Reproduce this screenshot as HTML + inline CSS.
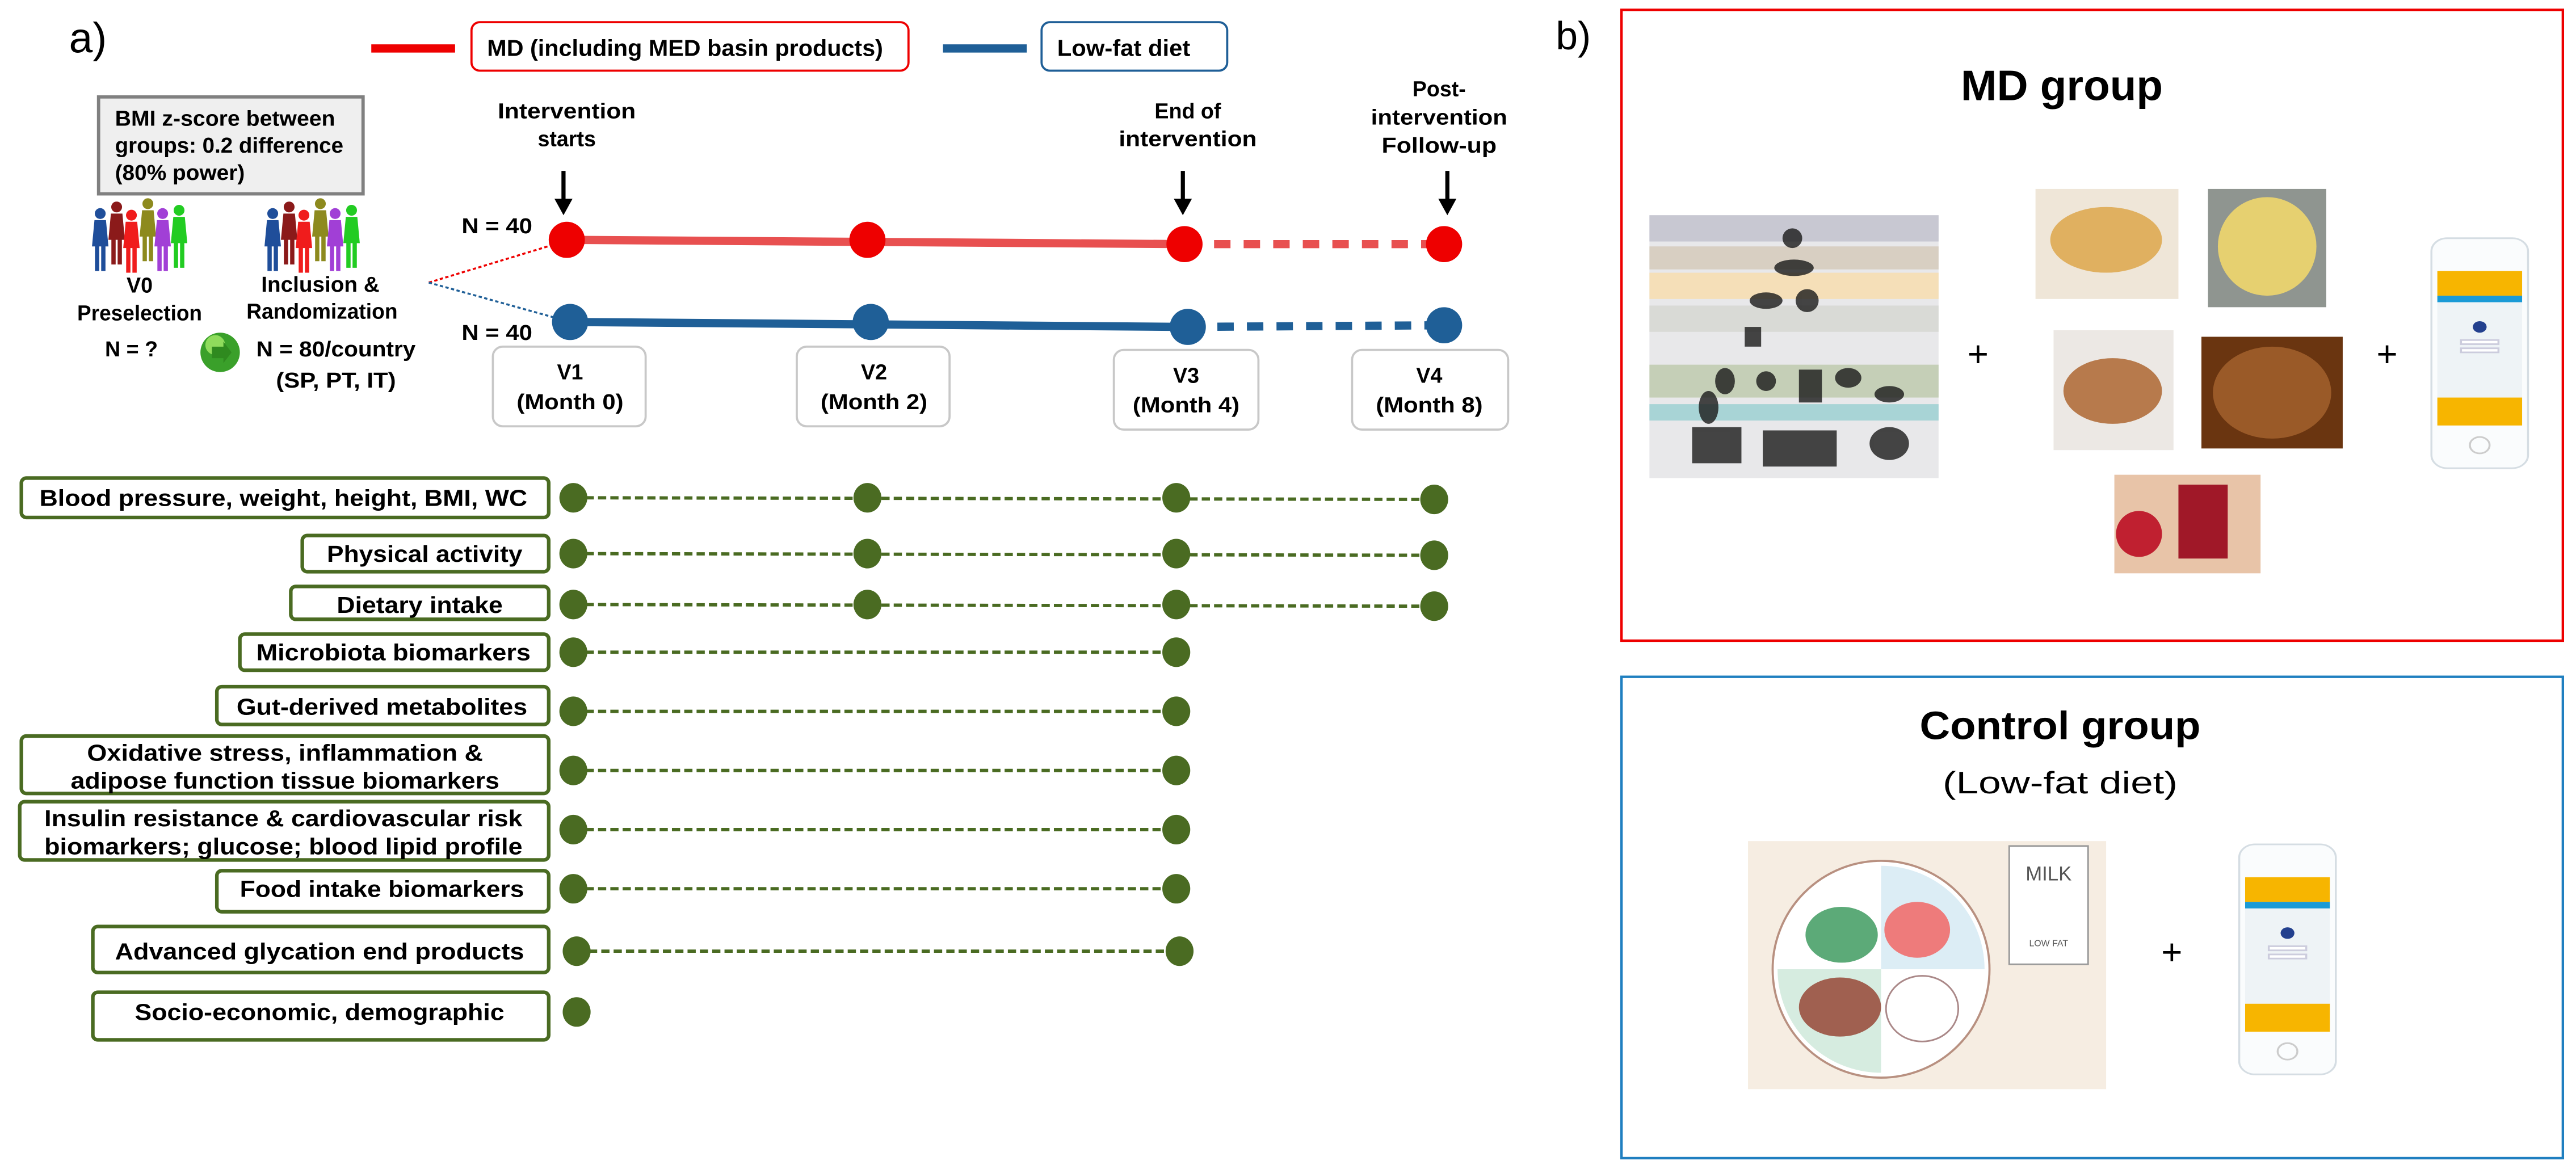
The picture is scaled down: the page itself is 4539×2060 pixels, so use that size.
<!DOCTYPE html>
<html><head><meta charset="utf-8"><style>
html,body{margin:0;padding:0;background:#fff;}
svg{display:block}
.n{font-family:"Liberation Sans",sans-serif;font-weight:bold;fill:#000}
.c{text-anchor:middle}
</style></head><body>
<svg width="4539" height="2060" viewBox="0 0 1568 711.6" preserveAspectRatio="none" xmlns="http://www.w3.org/2000/svg">
<defs>
<g id="p"><circle cx="0" cy="-20" r="3.3"/><path d="M-3.5,-16 L3.5,-16 L5,0 L-5,0 Z"/><rect x="-3.2" y="-1" width="2.6" height="16"/><rect x="0.6" y="-1" width="2.6" height="16"/></g>
<g id="crowd">
<use href="#p" x="3" y="23" fill="#1f4e9a"/><use href="#p" x="13" y="19" fill="#8b1a1a"/><use href="#p" x="22" y="24" fill="#f01c1c"/><use href="#p" x="32" y="17" fill="#8d8a1e"/><use href="#p" x="41" y="23" fill="#a13fd6"/><use href="#p" x="51" y="21" fill="#22cc22"/>
</g>
<g id="phone">
<rect x="0" y="0" width="49" height="140" rx="8" fill="#fafcfd" stroke="#d5dde3" stroke-width="1"/>
<rect x="3" y="20" width="43" height="15" fill="#f7b500"/>
<rect x="3" y="35" width="43" height="4" fill="#1a9ad6"/>
<rect x="3" y="39" width="43" height="58" fill="#eef3f6"/>
<circle cx="24.5" cy="54" r="3.5" fill="#23408e"/>
<rect x="15" y="62" width="19" height="2.5" fill="#fff" stroke="#ccd"/>
<rect x="15" y="67" width="19" height="2.5" fill="#fff" stroke="#ccd"/>
<rect x="3" y="97" width="43" height="17" fill="#f7b500"/>
<circle cx="24.5" cy="126" r="5" fill="none" stroke="#ccc"/>
</g>
</defs>

<text x="42" y="32" font-family="Liberation Sans,sans-serif" font-size="26" textLength="23" lengthAdjust="spacingAndGlyphs">a)</text>
<rect x="226" y="27" width="51" height="5" fill="#e00"/>
<rect x="287" y="13.5" width="266" height="29.5" rx="5" fill="#fff" stroke="#e00" stroke-width="1.3"/>
<text x="417" y="34" class="n c" font-size="14" textLength="241" lengthAdjust="spacingAndGlyphs">MD (including MED basin products)</text>
<rect x="574" y="27" width="51" height="5" fill="#1f5f97"/>
<rect x="634" y="13.5" width="113" height="29.5" rx="5" fill="#fff" stroke="#1f5f97" stroke-width="1.3"/>
<text x="684" y="34" class="n c" font-size="14" textLength="81" lengthAdjust="spacingAndGlyphs">Low-fat diet</text>
<text x="947" y="30" font-family="Liberation Sans,sans-serif" font-size="24">b)</text>

<use href="#crowd" x="58" y="127"/>
<use href="#crowd" x="163" y="127"/>
<rect x="60" y="59" width="161" height="59" fill="#efefef" stroke="#808080" stroke-width="2"/>
<text x="70" y="76.5" class="n" font-size="13" textLength="134" lengthAdjust="spacingAndGlyphs">BMI z-score between</text>
<text x="70" y="93" class="n" font-size="13" textLength="139" lengthAdjust="spacingAndGlyphs">groups: 0.2 difference</text>
<text x="70" y="109.5" class="n" font-size="13" textLength="79" lengthAdjust="spacingAndGlyphs">(80% power)</text>

<text x="85" y="178" class="n c" font-size="13">V0</text>
<text x="85" y="195" class="n c" font-size="13" textLength="76" lengthAdjust="spacingAndGlyphs">Preselection</text>
<text x="80" y="217" class="n c" font-size="13">N = ?</text>
<text x="195" y="177.5" class="n c" font-size="13" textLength="72" lengthAdjust="spacingAndGlyphs">Inclusion &amp;</text>
<text x="196" y="194" class="n c" font-size="13" textLength="92" lengthAdjust="spacingAndGlyphs">Randomization</text>
<circle cx="134" cy="214.5" r="12" fill="#3aa02a"/><circle cx="131" cy="210" r="6" fill="#8fdc5c"/>
<path d="M129,211 L136,211 L136,208 L141,214.5 L136,221 L136,218 L129,218Z" fill="#2f8a1f"/>
<text x="204.5" y="217" class="n c" font-size="13" textLength="97" lengthAdjust="spacingAndGlyphs">N = 80/country</text>
<text x="204.5" y="236" class="n c" font-size="13" textLength="73" lengthAdjust="spacingAndGlyphs">(SP, PT, IT)</text>

<line x1="261" y1="172" x2="340" y2="148" stroke="#e00" stroke-width="1.2" stroke-dasharray="2,1.5"/>
<line x1="261" y1="172" x2="340" y2="194" stroke="#1f5f97" stroke-width="1.2" stroke-dasharray="2,1.5"/>
<text x="302.5" y="142" class="n c" font-size="13" textLength="43" lengthAdjust="spacingAndGlyphs">N = 40</text>
<text x="302.5" y="207" class="n c" font-size="13" textLength="43" lengthAdjust="spacingAndGlyphs">N = 40</text>

<text x="345" y="72" class="n c" font-size="13" textLength="84" lengthAdjust="spacingAndGlyphs">Intervention</text>
<text x="345" y="89" class="n c" font-size="13">starts</text>
<text x="723" y="72" class="n c" font-size="13">End of</text>
<text x="723" y="89" class="n c" font-size="13" textLength="84" lengthAdjust="spacingAndGlyphs">intervention</text>
<text x="876" y="58.6" class="n c" font-size="13">Post-</text>
<text x="876" y="75.8" class="n c" font-size="13" textLength="83" lengthAdjust="spacingAndGlyphs">intervention</text>
<text x="876" y="93" class="n c" font-size="13" textLength="70" lengthAdjust="spacingAndGlyphs">Follow-up</text>
<g stroke="#000" stroke-width="2.5">
<line x1="343" y1="104" x2="343" y2="123"/><line x1="720" y1="104" x2="720" y2="123"/><line x1="881" y1="104" x2="881" y2="123"/>
</g>
<g fill="#000">
<polygon points="337.5,121 348.5,121 343,131"/><polygon points="714.5,121 725.5,121 720,131"/><polygon points="875.5,121 886.5,121 881,131"/>
</g>

<line x1="345" y1="146" x2="721" y2="148.6" stroke="#e85050" stroke-width="5"/>
<line x1="721" y1="148.6" x2="879" y2="148.6" stroke="#e85050" stroke-width="5" stroke-dasharray="10,8"/>
<line x1="347" y1="196" x2="723" y2="199" stroke="#1f5f97" stroke-width="5"/>
<line x1="723" y1="199" x2="879" y2="198" stroke="#1f5f97" stroke-width="5" stroke-dasharray="10,8"/>
<g fill="#e00"><ellipse cx="345" cy="146" rx="11" ry="11"/><ellipse cx="528" cy="146" rx="11" ry="11"/><ellipse cx="721" cy="148.6" rx="11" ry="11"/><ellipse cx="879" cy="148.6" rx="11" ry="11"/></g>
<g fill="#1f5f97"><ellipse cx="347" cy="196" rx="11" ry="11"/><ellipse cx="530" cy="196" rx="11" ry="11"/><ellipse cx="723" cy="199" rx="11" ry="11"/><ellipse cx="879" cy="198" rx="11" ry="11"/></g>

<g fill="#fff" stroke="#c8c8c8" stroke-width="1.3">
<rect x="300" y="211" width="93" height="48.5" rx="6"/><rect x="485" y="211" width="93" height="48.5" rx="6"/><rect x="678" y="213" width="88" height="48.5" rx="6"/><rect x="823" y="213" width="95" height="48.5" rx="6"/>
</g>
<text x="347" y="231" class="n c" font-size="13">V1</text><text x="347" y="249" class="n c" font-size="13" textLength="65" lengthAdjust="spacingAndGlyphs">(Month 0)</text>
<text x="532" y="231" class="n c" font-size="13">V2</text><text x="532" y="249" class="n c" font-size="13" textLength="65" lengthAdjust="spacingAndGlyphs">(Month 2)</text>
<text x="722" y="233" class="n c" font-size="13">V3</text><text x="722" y="251" class="n c" font-size="13" textLength="65" lengthAdjust="spacingAndGlyphs">(Month 4)</text>
<text x="870" y="233" class="n c" font-size="13">V4</text><text x="870" y="251" class="n c" font-size="13" textLength="65" lengthAdjust="spacingAndGlyphs">(Month 8)</text>

<g fill="#fff" stroke="#4a6b22" stroke-width="2.2">
<rect x="13" y="291" width="321" height="24" rx="3"/>
<rect x="184" y="326" width="150" height="22" rx="3"/>
<rect x="177" y="357" width="157" height="20" rx="3"/>
<rect x="146" y="386" width="188" height="22" rx="3"/>
<rect x="132" y="418" width="202" height="23" rx="3"/>
<rect x="13" y="448" width="321" height="35" rx="3"/>
<rect x="12" y="488" width="322" height="35.5" rx="3"/>
<rect x="132" y="530" width="202" height="25" rx="3"/>
<rect x="56.5" y="564" width="277.5" height="28" rx="3"/>
<rect x="56.5" y="604" width="277.5" height="29" rx="3"/>
</g>
<g class="n c" font-size="14">
<text x="172.5" y="308" textLength="297" lengthAdjust="spacingAndGlyphs">Blood pressure, weight, height, BMI, WC</text>
<text x="258.5" y="342" textLength="119" lengthAdjust="spacingAndGlyphs">Physical activity</text>
<text x="255.5" y="373" textLength="101" lengthAdjust="spacingAndGlyphs">Dietary intake</text>
<text x="239.5" y="402" textLength="167" lengthAdjust="spacingAndGlyphs">Microbiota biomarkers</text>
<text x="232.5" y="435" textLength="177" lengthAdjust="spacingAndGlyphs">Gut-derived metabolites</text>
<text x="173.5" y="463" textLength="241" lengthAdjust="spacingAndGlyphs">Oxidative stress, inflammation &amp;</text>
<text x="173.5" y="480" textLength="261" lengthAdjust="spacingAndGlyphs">adipose function tissue biomarkers</text>
<text x="172.5" y="503" textLength="291" lengthAdjust="spacingAndGlyphs">Insulin resistance &amp; cardiovascular risk</text>
<text x="172.5" y="520" textLength="291" lengthAdjust="spacingAndGlyphs">biomarkers; glucose; blood lipid profile</text>
<text x="232.5" y="546" textLength="173" lengthAdjust="spacingAndGlyphs">Food intake biomarkers</text>
<text x="194.5" y="584" textLength="249" lengthAdjust="spacingAndGlyphs">Advanced glycation end products</text>
<text x="194.5" y="621" textLength="225" lengthAdjust="spacingAndGlyphs">Socio-economic, demographic</text>
</g>
<g stroke="#4a6b22" stroke-width="2" stroke-dasharray="5,2.5">
<line x1="349" y1="303" x2="873" y2="304"/>
<line x1="349" y1="337" x2="873" y2="338"/>
<line x1="349" y1="368" x2="873" y2="369"/>
<line x1="349" y1="397" x2="716" y2="397"/>
<line x1="349" y1="433" x2="716" y2="433"/>
<line x1="349" y1="469" x2="716" y2="469"/>
<line x1="349" y1="505" x2="716" y2="505"/>
<line x1="349" y1="541" x2="716" y2="541"/>
<line x1="351" y1="579" x2="718" y2="579"/>
</g>
<g fill="#4a6b22">
<ellipse cx="349" cy="303" rx="8.5" ry="9"/><ellipse cx="528" cy="303" rx="8.5" ry="9"/><ellipse cx="716" cy="303" rx="8.5" ry="9"/><ellipse cx="873" cy="304" rx="8.5" ry="9"/>
<ellipse cx="349" cy="337" rx="8.5" ry="9"/><ellipse cx="528" cy="337" rx="8.5" ry="9"/><ellipse cx="716" cy="337" rx="8.5" ry="9"/><ellipse cx="873" cy="338" rx="8.5" ry="9"/>
<ellipse cx="349" cy="368" rx="8.5" ry="9"/><ellipse cx="528" cy="368" rx="8.5" ry="9"/><ellipse cx="716" cy="368" rx="8.5" ry="9"/><ellipse cx="873" cy="369" rx="8.5" ry="9"/>
<ellipse cx="349" cy="397" rx="8.5" ry="9"/><ellipse cx="716" cy="397" rx="8.5" ry="9"/>
<ellipse cx="349" cy="433" rx="8.5" ry="9"/><ellipse cx="716" cy="433" rx="8.5" ry="9"/>
<ellipse cx="349" cy="469" rx="8.5" ry="9"/><ellipse cx="716" cy="469" rx="8.5" ry="9"/>
<ellipse cx="349" cy="505" rx="8.5" ry="9"/><ellipse cx="716" cy="505" rx="8.5" ry="9"/>
<ellipse cx="349" cy="541" rx="8.5" ry="9"/><ellipse cx="716" cy="541" rx="8.5" ry="9"/>
<ellipse cx="351" cy="579" rx="8.5" ry="9"/><ellipse cx="718" cy="579" rx="8.5" ry="9"/>
<ellipse cx="351" cy="616" rx="8.5" ry="9"/>
</g>

<rect x="987" y="6" width="573" height="384" fill="none" stroke="#e00" stroke-width="1.5"/>
<text x="1255" y="61" text-anchor="middle" font-family="Liberation Sans,sans-serif" font-weight="bold" font-size="26" textLength="123" lengthAdjust="spacingAndGlyphs">MD group</text>
<g>
<rect x="1004" y="131" width="176" height="160" fill="#e8e8ea"/>
<rect x="1004" y="131" width="176" height="16" fill="#c8c8d2"/>
<rect x="1004" y="150" width="176" height="14" fill="#d8cfc2"/>
<rect x="1004" y="166" width="176" height="16" fill="#f5dfb8"/>
<rect x="1004" y="186" width="176" height="16" fill="#d9dad6"/>
<rect x="1004" y="222" width="176" height="20" fill="#c5cfb7"/>
<rect x="1004" y="246" width="176" height="10" fill="#a8d4d6"/>
<g fill="#1a1a1a" opacity="0.8">
<circle cx="1091" cy="145" r="6"/><ellipse cx="1092" cy="163" rx="12" ry="5"/>
<ellipse cx="1075" cy="183" rx="10" ry="5"/><ellipse cx="1100" cy="183" rx="7" ry="7"/>
<rect x="1062" y="199" width="10" height="12"/><ellipse cx="1050" cy="232" rx="6" ry="8"/><ellipse cx="1075" cy="232" rx="6" ry="6"/>
<rect x="1095" y="225" width="14" height="20"/><ellipse cx="1125" cy="230" rx="8" ry="6"/><ellipse cx="1150" cy="240" rx="9" ry="5"/>
<ellipse cx="1040" cy="248" rx="6" ry="10"/>
<rect x="1030" y="260" width="30" height="22"/><rect x="1073" y="262" width="45" height="22"/><ellipse cx="1150" cy="270" rx="12" ry="10"/>
</g>
</g>
<text x="1204" y="223" text-anchor="middle" font-family="Liberation Sans,sans-serif" font-size="22">+</text>
<rect x="1239" y="115" width="87" height="67" fill="#efe6d8"/><ellipse cx="1282" cy="146" rx="34" ry="20" fill="#e0b060"/>
<rect x="1344" y="115" width="72" height="72" fill="#8f9590"/><ellipse cx="1380" cy="150" rx="30" ry="30" fill="#e6d070"/>
<rect x="1250" y="201" width="73" height="73" fill="#ece8e4"/><ellipse cx="1286" cy="238" rx="30" ry="20" fill="#b77a4c"/>
<rect x="1340" y="205" width="86" height="68" fill="#6a3510"/><ellipse cx="1383" cy="239" rx="36" ry="28" fill="#9a5a28"/>
<rect x="1287" y="289" width="89" height="60" fill="#e8c4a8"/><rect x="1326" y="295" width="30" height="45" fill="#a01828"/><circle cx="1302" cy="325" r="14" fill="#c02030"/>
<text x="1453" y="223" text-anchor="middle" font-family="Liberation Sans,sans-serif" font-size="22">+</text>
<use href="#phone" transform="translate(1480,145) scale(1.2,1)"/>

<rect x="987" y="412" width="573" height="293" fill="none" stroke="#1f7fc0" stroke-width="1.5"/>
<text x="1254" y="450" text-anchor="middle" font-family="Liberation Sans,sans-serif" font-weight="bold" font-size="24" textLength="171" lengthAdjust="spacingAndGlyphs">Control group</text>
<text x="1254" y="483" text-anchor="middle" font-family="Liberation Sans,sans-serif" font-size="19" textLength="143" lengthAdjust="spacingAndGlyphs">(Low-fat diet)</text>
<rect x="1064" y="512" width="218" height="151" fill="#f6ede2"/>
<circle cx="1145" cy="590" r="66" fill="#fff" stroke="#b89080" stroke-width="1.3"/>
<path d="M1145,590 L1145,527 A63,63 0 0 1 1208,590 Z" fill="#dcedf5"/>
<path d="M1145,590 L1082,590 A63,63 0 0 0 1145,653 Z" fill="#d6ece0"/>
<ellipse cx="1121" cy="569" rx="22" ry="17" fill="#5caa78"/>
<ellipse cx="1167" cy="566" rx="20" ry="17" fill="#ee7b7b"/>
<ellipse cx="1120" cy="613" rx="25" ry="18" fill="#a06050"/>
<ellipse cx="1170" cy="614" rx="22" ry="20" fill="#fff" stroke="#a88" stroke-width="1"/>
<rect x="1223" y="515" width="48" height="72" fill="#fff" stroke="#999" stroke-width="1"/>
<text x="1247" y="536" text-anchor="middle" font-family="Liberation Sans,sans-serif" font-size="12" fill="#555">MILK</text>
<text x="1247" y="576" text-anchor="middle" font-family="Liberation Sans,sans-serif" font-size="5.5" fill="#555">LOW FAT</text>
<text x="1322" y="587" text-anchor="middle" font-family="Liberation Sans,sans-serif" font-size="22">+</text>
<use href="#phone" transform="translate(1363,514) scale(1.2,1)"/>
</svg>
</body></html>
